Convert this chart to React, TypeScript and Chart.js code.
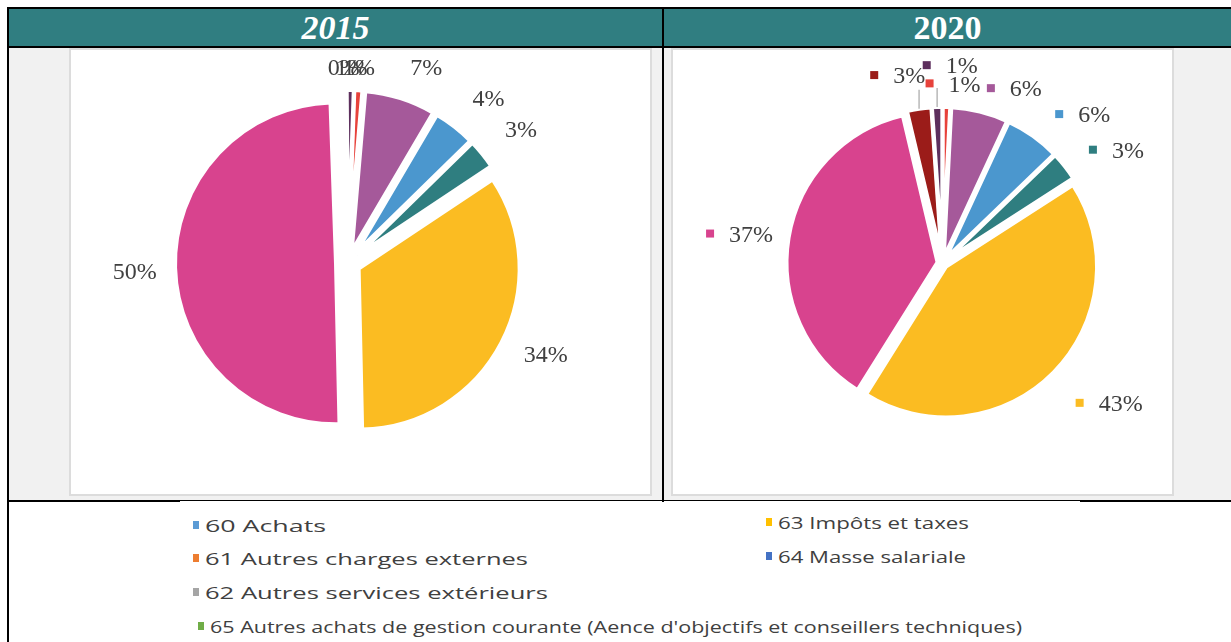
import React, { useEffect, useRef, useMemo } from 'react';
import { Chart, registerables } from 'chart.js';

Chart.register(...registerables);

// ---------------- data ----------------
const sliceNames = ['Rouge', 'Violet', 'Bleu', 'Sarcelle', 'Jaune', 'Rose', 'Bordeaux', 'Prune'];
const values2015 = [0.8, 7.1, 4.2, 3.0, 34.0, 49.8, 0.4, 0.7];
const values2020 = [0.8, 6.1, 5.9, 3.1, 43.0, 37.4, 2.6, 1.1];
const years = ['2015', '2020'];
const legendLabels = [
  '60 Achats',
  '61 Autres charges externes',
  '62 Autres services extérieurs',
  "65 Autres achats de gestion courante (Aence d'objectifs et conseillers techniques)",
  '63 Impôts et taxes',
  '64 Masse salariale',
];

// ---------------- styles ----------------
const sliceColors = ['#e7423b', '#a5599a', '#4b97ce', '#2f7e80', '#fbbc22', '#d8438e', '#9b1c19', '#5d2f5d'];
const legendColors = ['#5b9bd5', '#ed7d31', '#a5a5a5', '#70ad47', '#ffc000', '#4472c4'];
const TEAL = '#307e81';
const BODY_GRAY = '#f1f1f1';
const LABEL_COLOR = '#404040';

type PieStyle = {
  box: { x: number; y: number; w: number; h: number };
  center: { x: number; y: number };
  radius: number;
  rotation: number;
  border: number;
  explode: number;
  gap: number;
  keySize: number;
  keyGap: number;
  nudges: number[][];
  leaders: number[];
};

const pieStyles: PieStyle[] = [
  {
    box: { x: 69, y: 48, w: 583, h: 448 },
    center: { x: 348, y: 263 },
    radius: 161,
    rotation: 2,
    border: 4,
    explode: 12,
    gap: 20,
    keySize: 0,
    keyGap: 0,
    nudges: [[-1, 7], [16, 1], [12, 1], [10, 0], [7, -7], [0, 4], [0, 7], [1, 7]],
    leaders: [0, 0, 0, 0, 0, 0, 0, 0],
  },
  {
    box: { x: 671, y: 48, w: 503, h: 448 },
    center: { x: 942.5, y: 263 },
    radius: 151,
    rotation: 0,
    border: 4,
    explode: 5,
    gap: 17,
    keySize: 8,
    keyGap: 15,
    nudges: [[6, 4], [27, 9], [27, 12], [18, 12], [23, 0], [0, 6], [-17, -3], [14, -14]],
    leaders: [0, 0, 0, 0, 0, 0, 19, 19],
  },
];

const legendLayout = [
  { x: 205, y: 526, w: 121, size: 17 },
  { x: 205, y: 559, w: 323, size: 17 },
  { x: 205, y: 593, w: 343, size: 17 },
  { x: 210, y: 627, w: 812, size: 16 },
  { x: 778, y: 523, w: 191, size: 17 },
  { x: 778, y: 557, w: 188, size: 17 },
];

// ---------------- plugins ----------------
function makeExplodePlugin(explode: number) {
  return {
    id: 'explodeSlices',
    beforeDatasetDraw(chart: any, args: any) {
      const ctx = chart.ctx;
      args.meta.data.forEach((arc: any) => {
        const p = arc.getProps(['startAngle', 'endAngle'], true);
        const mid = (p.startAngle + p.endAngle) / 2;
        ctx.save();
        ctx.translate(Math.cos(mid) * explode, Math.sin(mid) * explode);
        arc.draw(ctx);
        ctx.restore();
      });
      return false;
    },
  };
}

function makeLabelPlugin(style: PieStyle) {
  return {
    id: 'sliceLabels',
    afterDatasetsDraw(chart: any) {
      const meta = chart.getDatasetMeta(0);
      const ds = chart.data.datasets[0];
      const data: number[] = ds.data;
      const total = data.reduce((a, b) => a + b, 0);
      const ctx = chart.ctx;
      ctx.save();
      ctx.font = '24px "Liberation Serif", "Times New Roman", serif';
      ctx.textBaseline = 'middle';
      ctx.textAlign = 'left';
      const halfH = 10;
      meta.data.forEach((arc: any, i: number) => {
        const p = arc.getProps(['x', 'y', 'startAngle', 'endAngle', 'outerRadius'], true);
        const mid = (p.startAngle + p.endAngle) / 2;
        const dx = Math.cos(mid);
        const dy = Math.sin(mid);
        const text = Math.round((data[i] / total) * 100) + '%';
        const tw = ctx.measureText(text).width;
        const keyW = style.keySize ? style.keySize + style.keyGap : 0;
        const halfW = (keyW + tw) / 2;
        const proj = Math.abs(dx) * halfW + Math.abs(dy) * halfH;
        const rVis = p.outerRadius - style.border / 2;
        const dist = rVis + style.explode + style.gap + proj;
        const [nx, ny] = style.nudges[i] || [0, 0];
        const cx = p.x + dx * dist + nx;
        const cy = p.y + dy * dist + ny;
        const left = cx - halfW;
        const lead = style.leaders[i];
        if (lead) {
          const ox = p.x + dx * (rVis + style.explode + 2);
          const oy = p.y + dy * (rVis + style.explode + 2);
          ctx.strokeStyle = '#a6a6a6';
          ctx.lineWidth = 1.2;
          ctx.beginPath();
          ctx.moveTo(ox, oy);
          ctx.lineTo(ox, oy - lead);
          ctx.stroke();
        }
        if (style.keySize) {
          ctx.fillStyle = ds.backgroundColor[i];
          ctx.fillRect(left, cy - style.keySize / 2 - 2, style.keySize, style.keySize);
        }
        ctx.fillStyle = LABEL_COLOR;
        ctx.fillText(text, left + keyW, cy);
      });
      ctx.restore();
    },
  };
}

// ---------------- components ----------------
function PieChart({ values, style }: { values: number[]; style: PieStyle }) {
  const ref = useRef<HTMLCanvasElement | null>(null);
  const W = style.box.w - 4;
  const H = style.box.h - 4;
  useEffect(() => {
    const canvas = ref.current;
    if (!canvas) return;
    const left = style.box.x + 2;
    const top = style.box.y + 2;
    const lx = style.center.x - left;
    const ly = style.center.y - top;
    const padding = {
      left: lx > W / 2 ? 2 * lx - W : 0,
      right: lx < W / 2 ? W - 2 * lx : 0,
      top: ly > H / 2 ? 2 * ly - H : 0,
      bottom: ly < H / 2 ? H - 2 * ly : 0,
    };
    const chart = new Chart(canvas, {
      type: 'pie',
      data: {
        labels: sliceNames,
        datasets: [
          {
            data: values,
            backgroundColor: sliceColors,
            borderColor: '#ffffff',
            borderWidth: style.border,
            radius: style.radius,
            rotation: style.rotation,
          } as any,
        ],
      },
      options: {
        responsive: false,
        animation: false,
        devicePixelRatio: 1,
        events: [],
        layout: { padding },
        plugins: { legend: { display: false }, tooltip: { enabled: false } },
      } as any,
      plugins: [makeExplodePlugin(style.explode), makeLabelPlugin(style)],
    });
    return () => chart.destroy();
  }, []);
  return (
    <div
      style={{
        position: 'absolute',
        left: style.box.x,
        top: style.box.y,
        width: style.box.w,
        height: style.box.h,
        boxSizing: 'border-box',
        border: '2px solid #dcdcdc',
        background: '#ffffff',
      }}
    >
      <canvas ref={ref} width={W} height={H} style={{ display: 'block', width: W, height: H }} />
    </div>
  );
}

function LegendEntry({ label, color, lay }: { label: string; color: string; lay: { x: number; y: number; w: number; size: number } }) {
  const scale = useMemo(() => {
    const c = document.createElement('canvas').getContext('2d');
    if (!c) return 1;
    c.font = `${lay.size}px "Open Sans"`;
    const w = c.measureText(label).width;
    return w > 0 ? lay.w / w : 1;
  }, [label, lay]);
  const lh = Math.round(lay.size * 1.4);
  return (
    <>
      <div style={{ position: 'absolute', left: lay.x - 12, top: lay.y - 5, width: 6, height: 8, background: color }} />
      <div
        style={{
          position: 'absolute',
          left: lay.x,
          top: lay.y - lh / 2,
          height: lh,
          lineHeight: lh + 'px',
          fontSize: lay.size,
          fontFamily: '"Open Sans", sans-serif',
          color: LABEL_COLOR,
          whiteSpace: 'nowrap',
          transform: `scaleX(${scale})`,
          transformOrigin: 'left center',
        }}
      >
        {label}
      </div>
    </>
  );
}

const abs = (l: number, t: number, w: number, h: number, bg: string): React.CSSProperties => ({
  position: 'absolute',
  left: l,
  top: t,
  width: w,
  height: h,
  background: bg,
});

export default function App() {
  const headerFont: React.CSSProperties = {
    fontFamily: '"Liberation Serif", "Times New Roman", serif',
    fontWeight: 700,
    fontSize: 34,
    color: '#ffffff',
    lineHeight: '37px',
    textAlign: 'center',
  };
  return (
    <div>
      {/* header */}
      <div style={abs(9, 9, 1222, 37, TEAL)} />
      <div style={{ ...abs(9, 9, 653, 37, 'transparent'), ...headerFont, fontStyle: 'italic' }}>{years[0]}</div>
      <div style={{ ...abs(664, 9, 567, 37, 'transparent'), ...headerFont }}>{years[1]}</div>
      {/* body backgrounds */}
      <div style={abs(9, 48, 653, 452, BODY_GRAY)} />
      <div style={abs(664, 48, 567, 452, BODY_GRAY)} />
      {/* table lines */}
      <div style={abs(7, 7, 1224, 2, '#000')} />
      <div style={abs(7, 7, 2, 635, '#000')} />
      <div style={abs(7, 46, 1224, 2, '#000')} />
      <div style={abs(662, 7, 2, 495, '#000')} />
      <div style={abs(7, 500, 173, 2, '#000')} />
      <div style={abs(180, 500, 900, 1, '#000')} />
      <div style={abs(1080, 500, 151, 2, '#000')} />
      {/* charts */}
      <PieChart values={values2015} style={pieStyles[0]} />
      <PieChart values={values2020} style={pieStyles[1]} />
      {/* legend */}
      {legendLabels.map((l, i) => (
        <LegendEntry key={l} label={l} color={legendColors[i]} lay={legendLayout[i]} />
      ))}
    </div>
  );
}
